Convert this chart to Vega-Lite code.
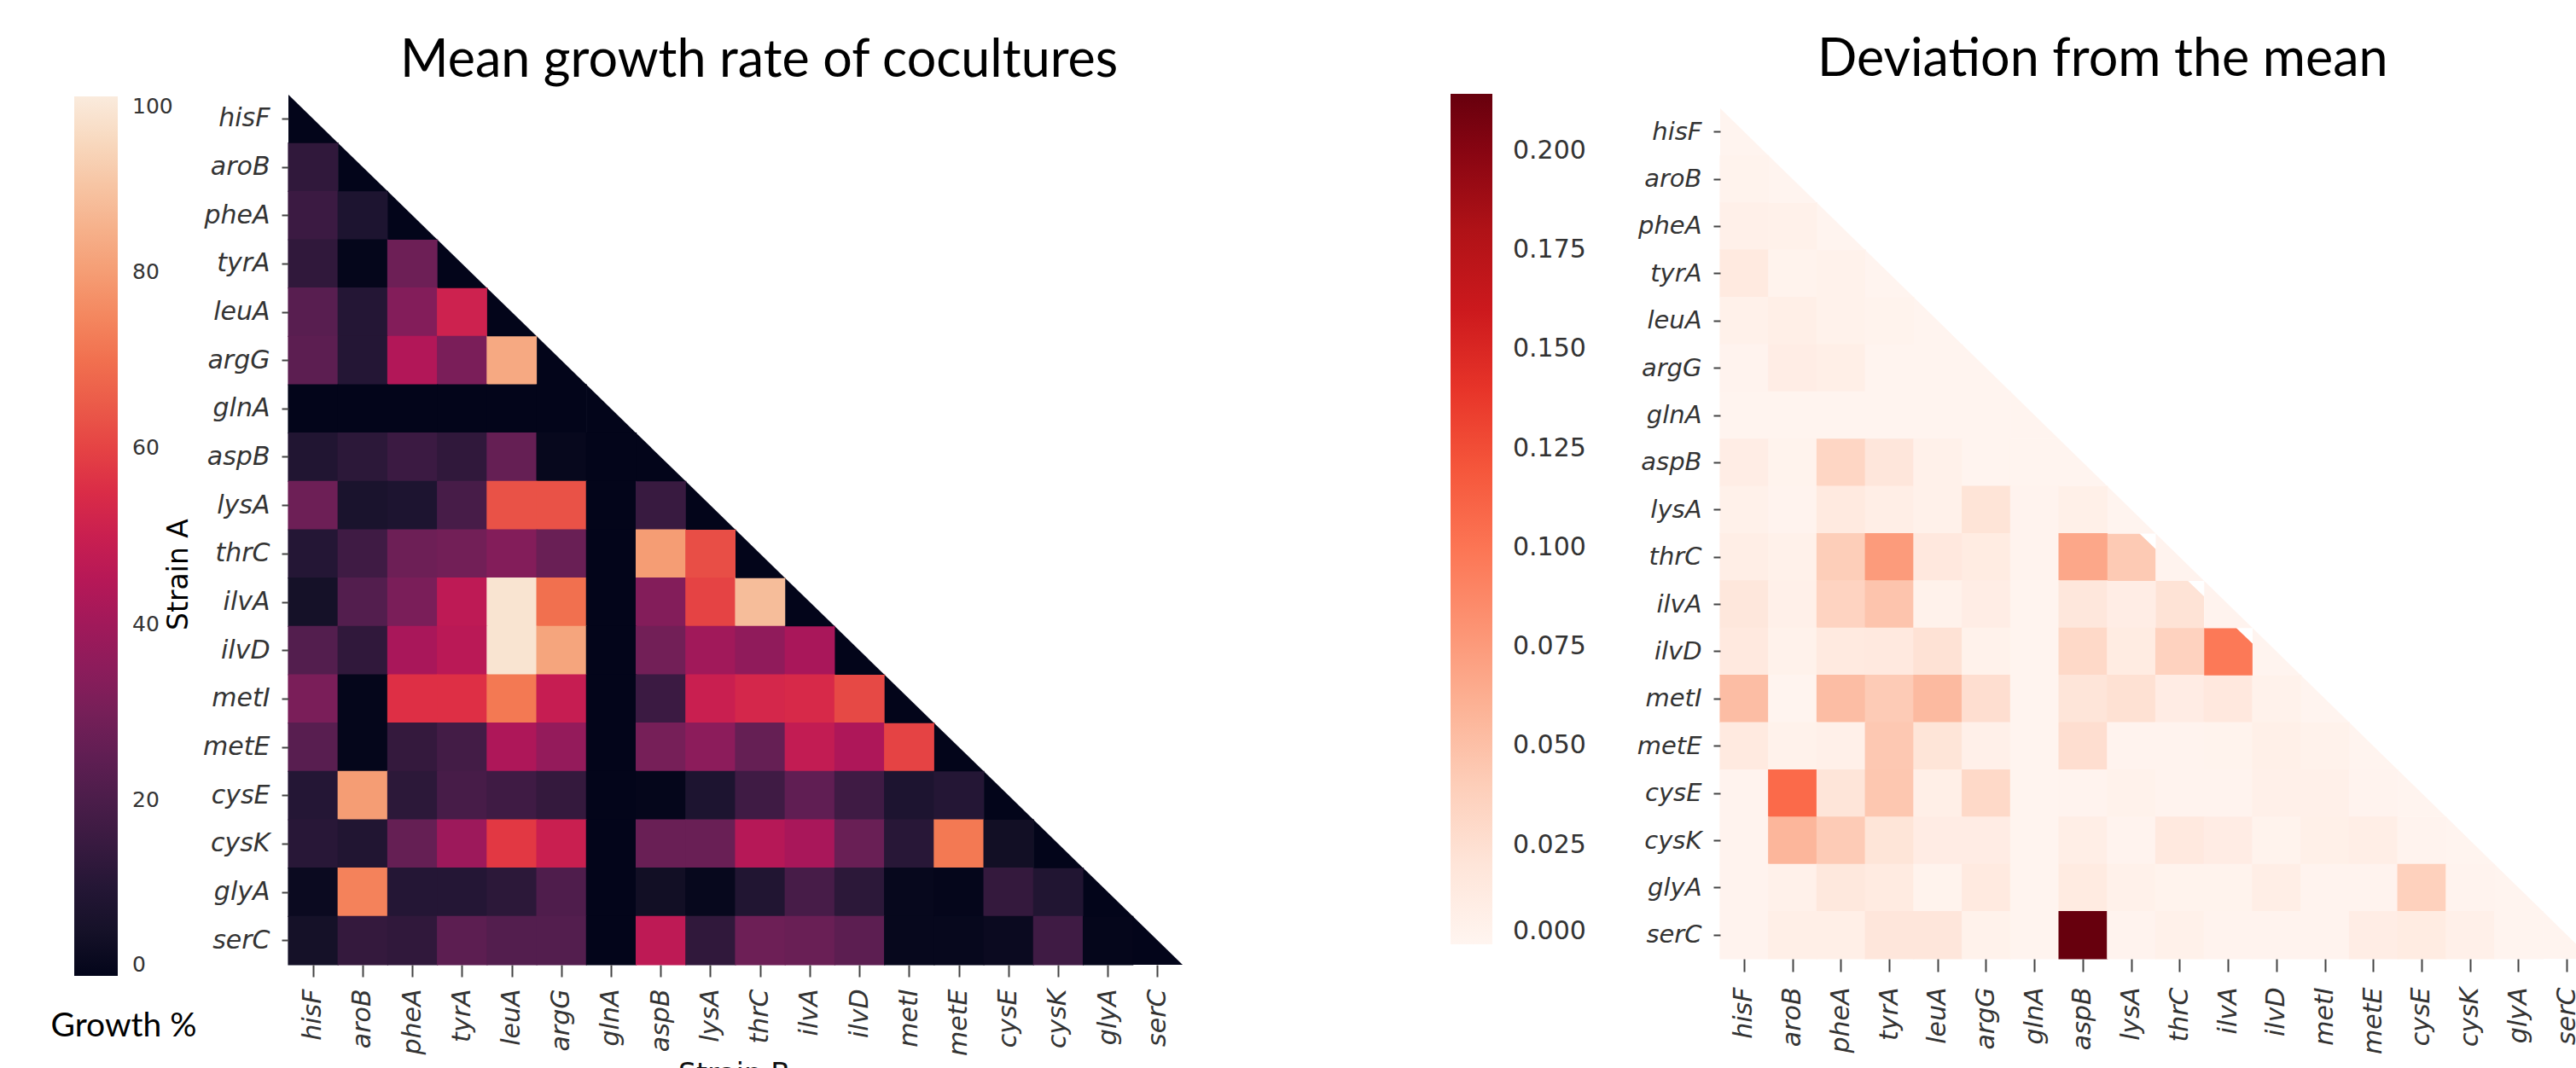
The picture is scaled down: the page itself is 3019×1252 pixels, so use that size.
{"$schema":"https://vega.github.io/schema/vega-lite/v6.json","background":"white","padding":{"left":59,"top":40,"right":0,"bottom":0},"spacing":314,"config":{"view":{"stroke":null},"axis":{"grid":false,"domain":false}},
"resolve":{"scale":{"color":"independent","x":"independent","y":"independent"},"legend":{"color":"independent"}},
"datasets":{"mean":[
{"a":"hisF","b":"hisF","v":0},
{"a":"aroB","b":"hisF","v":13},{"a":"aroB","b":"aroB","v":0},
{"a":"pheA","b":"hisF","v":16},{"a":"pheA","b":"aroB","v":8},{"a":"pheA","b":"pheA","v":0},
{"a":"tyrA","b":"hisF","v":13},{"a":"tyrA","b":"aroB","v":0.5},{"a":"tyrA","b":"pheA","v":28},{"a":"tyrA","b":"tyrA","v":0},
{"a":"leuA","b":"hisF","v":23},{"a":"leuA","b":"aroB","v":10},{"a":"leuA","b":"pheA","v":33},{"a":"leuA","b":"tyrA","v":51},{"a":"leuA","b":"leuA","v":0},
{"a":"argG","b":"hisF","v":24},{"a":"argG","b":"aroB","v":10},{"a":"argG","b":"pheA","v":44},{"a":"argG","b":"tyrA","v":31},{"a":"argG","b":"leuA","v":83},{"a":"argG","b":"argG","v":0},
{"a":"glnA","b":"hisF","v":0},{"a":"glnA","b":"aroB","v":0},{"a":"glnA","b":"pheA","v":0},{"a":"glnA","b":"tyrA","v":0},{"a":"glnA","b":"leuA","v":0},{"a":"glnA","b":"argG","v":0},{"a":"glnA","b":"glnA","v":0},
{"a":"aspB","b":"hisF","v":9},{"a":"aspB","b":"aroB","v":12},{"a":"aspB","b":"pheA","v":16},{"a":"aspB","b":"tyrA","v":13},{"a":"aspB","b":"leuA","v":26},{"a":"aspB","b":"argG","v":1},{"a":"aspB","b":"glnA","v":0},{"a":"aspB","b":"aspB","v":0},
{"a":"lysA","b":"hisF","v":28},{"a":"lysA","b":"aroB","v":7},{"a":"lysA","b":"pheA","v":8},{"a":"lysA","b":"tyrA","v":19},{"a":"lysA","b":"leuA","v":63},{"a":"lysA","b":"argG","v":63},{"a":"lysA","b":"glnA","v":0},{"a":"lysA","b":"aspB","v":15},{"a":"lysA","b":"lysA","v":0},
{"a":"thrC","b":"hisF","v":10},{"a":"thrC","b":"aroB","v":17},{"a":"thrC","b":"pheA","v":28},{"a":"thrC","b":"tyrA","v":29},{"a":"thrC","b":"leuA","v":33},{"a":"thrC","b":"argG","v":27},{"a":"thrC","b":"glnA","v":0},{"a":"thrC","b":"aspB","v":80},{"a":"thrC","b":"lysA","v":62},{"a":"thrC","b":"thrC","v":0},
{"a":"ilvA","b":"hisF","v":5},{"a":"ilvA","b":"aroB","v":22},{"a":"ilvA","b":"pheA","v":31},{"a":"ilvA","b":"tyrA","v":47},{"a":"ilvA","b":"leuA","v":98},{"a":"ilvA","b":"argG","v":70},{"a":"ilvA","b":"glnA","v":0},{"a":"ilvA","b":"aspB","v":33},{"a":"ilvA","b":"lysA","v":60},{"a":"ilvA","b":"thrC","v":88},{"a":"ilvA","b":"ilvA","v":0},
{"a":"ilvD","b":"hisF","v":22},{"a":"ilvD","b":"aroB","v":13},{"a":"ilvD","b":"pheA","v":42},{"a":"ilvD","b":"tyrA","v":46},{"a":"ilvD","b":"leuA","v":98},{"a":"ilvD","b":"argG","v":82},{"a":"ilvD","b":"glnA","v":0},{"a":"ilvD","b":"aspB","v":29},{"a":"ilvD","b":"lysA","v":40},{"a":"ilvD","b":"thrC","v":36},{"a":"ilvD","b":"ilvA","v":42},{"a":"ilvD","b":"ilvD","v":0},
{"a":"metI","b":"hisF","v":31},{"a":"metI","b":"aroB","v":0.5},{"a":"metI","b":"pheA","v":56},{"a":"metI","b":"tyrA","v":56},{"a":"metI","b":"leuA","v":72},{"a":"metI","b":"argG","v":49},{"a":"metI","b":"glnA","v":0},{"a":"metI","b":"aspB","v":16},{"a":"metI","b":"lysA","v":50},{"a":"metI","b":"thrC","v":53},{"a":"metI","b":"ilvA","v":54},{"a":"metI","b":"ilvD","v":61},{"a":"metI","b":"metI","v":0},
{"a":"metE","b":"hisF","v":23},{"a":"metE","b":"aroB","v":0.5},{"a":"metE","b":"pheA","v":14},{"a":"metE","b":"tyrA","v":18},{"a":"metE","b":"leuA","v":43},{"a":"metE","b":"argG","v":37},{"a":"metE","b":"glnA","v":0},{"a":"metE","b":"aspB","v":30},{"a":"metE","b":"lysA","v":35},{"a":"metE","b":"thrC","v":26},{"a":"metE","b":"ilvA","v":48},{"a":"metE","b":"ilvD","v":43},{"a":"metE","b":"metI","v":60},{"a":"metE","b":"metE","v":0},
{"a":"cysE","b":"hisF","v":10},{"a":"cysE","b":"aroB","v":80},{"a":"cysE","b":"pheA","v":12},{"a":"cysE","b":"tyrA","v":19},{"a":"cysE","b":"leuA","v":17},{"a":"cysE","b":"argG","v":14},{"a":"cysE","b":"glnA","v":0},{"a":"cysE","b":"aspB","v":0.5},{"a":"cysE","b":"lysA","v":8},{"a":"cysE","b":"thrC","v":17},{"a":"cysE","b":"ilvA","v":25},{"a":"cysE","b":"ilvD","v":17},{"a":"cysE","b":"metI","v":8},{"a":"cysE","b":"metE","v":10},{"a":"cysE","b":"cysE","v":0},
{"a":"cysK","b":"hisF","v":11},{"a":"cysK","b":"aroB","v":9},{"a":"cysK","b":"pheA","v":26},{"a":"cysK","b":"tyrA","v":39},{"a":"cysK","b":"leuA","v":58},{"a":"cysK","b":"argG","v":50},{"a":"cysK","b":"glnA","v":0},{"a":"cysK","b":"aspB","v":27},{"a":"cysK","b":"lysA","v":27},{"a":"cysK","b":"thrC","v":45},{"a":"cysK","b":"ilvA","v":42},{"a":"cysK","b":"ilvD","v":27},{"a":"cysK","b":"metI","v":11},{"a":"cysK","b":"metE","v":72},{"a":"cysK","b":"cysE","v":4},{"a":"cysK","b":"cysK","v":0},
{"a":"glyA","b":"hisF","v":2},{"a":"glyA","b":"aroB","v":74},{"a":"glyA","b":"pheA","v":10},{"a":"glyA","b":"tyrA","v":10},{"a":"glyA","b":"leuA","v":12},{"a":"glyA","b":"argG","v":21},{"a":"glyA","b":"glnA","v":0},{"a":"glyA","b":"aspB","v":4},{"a":"glyA","b":"lysA","v":1},{"a":"glyA","b":"thrC","v":9},{"a":"glyA","b":"ilvA","v":19},{"a":"glyA","b":"ilvD","v":12},{"a":"glyA","b":"metI","v":1},{"a":"glyA","b":"metE","v":0.5},{"a":"glyA","b":"cysE","v":14},{"a":"glyA","b":"cysK","v":9},{"a":"glyA","b":"glyA","v":0},
{"a":"serC","b":"hisF","v":5},{"a":"serC","b":"aroB","v":14},{"a":"serC","b":"pheA","v":13},{"a":"serC","b":"tyrA","v":24},{"a":"serC","b":"leuA","v":22},{"a":"serC","b":"argG","v":22},{"a":"serC","b":"glnA","v":0},{"a":"serC","b":"aspB","v":47},{"a":"serC","b":"lysA","v":13},{"a":"serC","b":"thrC","v":28},{"a":"serC","b":"ilvA","v":27},{"a":"serC","b":"ilvD","v":24},{"a":"serC","b":"metI","v":1},{"a":"serC","b":"metE","v":1},{"a":"serC","b":"cysE","v":2},{"a":"serC","b":"cysK","v":17},{"a":"serC","b":"glyA","v":0.5},{"a":"serC","b":"serC","v":0}
],"dev":[
{"a":"hisF","b":"hisF","v":0.001},
{"a":"aroB","b":"hisF","v":0.003},{"a":"aroB","b":"aroB","v":0.001},
{"a":"pheA","b":"hisF","v":0.006},{"a":"pheA","b":"aroB","v":0.005},{"a":"pheA","b":"pheA","v":0.001},
{"a":"tyrA","b":"hisF","v":0.014},{"a":"tyrA","b":"aroB","v":0.003},{"a":"tyrA","b":"pheA","v":0.004},{"a":"tyrA","b":"tyrA","v":0.001},
{"a":"leuA","b":"hisF","v":0.005},{"a":"leuA","b":"aroB","v":0.008},{"a":"leuA","b":"pheA","v":0.004},{"a":"leuA","b":"tyrA","v":0.003},{"a":"leuA","b":"leuA","v":0.001},
{"a":"argG","b":"hisF","v":0.002},{"a":"argG","b":"aroB","v":0.01},{"a":"argG","b":"pheA","v":0.008},{"a":"argG","b":"tyrA","v":0.001},{"a":"argG","b":"leuA","v":0.001},{"a":"argG","b":"argG","v":0.001},
{"a":"glnA","b":"hisF","v":0.001},{"a":"glnA","b":"aroB","v":0.001},{"a":"glnA","b":"pheA","v":0.001},{"a":"glnA","b":"tyrA","v":0.001},{"a":"glnA","b":"leuA","v":0.001},{"a":"glnA","b":"argG","v":0.001},{"a":"glnA","b":"glnA","v":0.001},
{"a":"aspB","b":"hisF","v":0.01},{"a":"aspB","b":"aroB","v":0.003},{"a":"aspB","b":"pheA","v":0.034},{"a":"aspB","b":"tyrA","v":0.019},{"a":"aspB","b":"leuA","v":0.005},{"a":"aspB","b":"argG","v":0.001},{"a":"aspB","b":"glnA","v":0.001},{"a":"aspB","b":"aspB","v":0.001},
{"a":"lysA","b":"hisF","v":0.005},{"a":"lysA","b":"aroB","v":0.002},{"a":"lysA","b":"pheA","v":0.014},{"a":"lysA","b":"tyrA","v":0.009},{"a":"lysA","b":"leuA","v":0.005},{"a":"lysA","b":"argG","v":0.022},{"a":"lysA","b":"glnA","v":0.002},{"a":"lysA","b":"aspB","v":0.007},{"a":"lysA","b":"lysA","v":0.001},
{"a":"thrC","b":"hisF","v":0.009},{"a":"thrC","b":"aroB","v":0.005},{"a":"thrC","b":"pheA","v":0.04},{"a":"thrC","b":"tyrA","v":0.075},{"a":"thrC","b":"leuA","v":0.016},{"a":"thrC","b":"argG","v":0.012},{"a":"thrC","b":"glnA","v":0.002},{"a":"thrC","b":"aspB","v":0.067},{"a":"thrC","b":"lysA","v":0.043},{"a":"thrC","b":"thrC","v":0.002},
{"a":"ilvA","b":"hisF","v":0.018},{"a":"ilvA","b":"aroB","v":0.006},{"a":"ilvA","b":"pheA","v":0.036},{"a":"ilvA","b":"tyrA","v":0.047},{"a":"ilvA","b":"leuA","v":0.004},{"a":"ilvA","b":"argG","v":0.01},{"a":"ilvA","b":"glnA","v":0.001},{"a":"ilvA","b":"aspB","v":0.018},{"a":"ilvA","b":"lysA","v":0.01},{"a":"ilvA","b":"thrC","v":0.023},{"a":"ilvA","b":"ilvA","v":0.002},
{"a":"ilvD","b":"hisF","v":0.015},{"a":"ilvD","b":"aroB","v":0.004},{"a":"ilvD","b":"pheA","v":0.014},{"a":"ilvD","b":"tyrA","v":0.015},{"a":"ilvD","b":"leuA","v":0.024},{"a":"ilvD","b":"argG","v":0.004},{"a":"ilvD","b":"glnA","v":0.001},{"a":"ilvD","b":"aspB","v":0.032},{"a":"ilvD","b":"lysA","v":0.012},{"a":"ilvD","b":"thrC","v":0.037},{"a":"ilvD","b":"ilvA","v":0.098},{"a":"ilvD","b":"ilvD","v":0.001},
{"a":"metI","b":"hisF","v":0.052},{"a":"metI","b":"aroB","v":0.001},{"a":"metI","b":"pheA","v":0.052},{"a":"metI","b":"tyrA","v":0.042},{"a":"metI","b":"leuA","v":0.054},{"a":"metI","b":"argG","v":0.028},{"a":"metI","b":"glnA","v":0.001},{"a":"metI","b":"aspB","v":0.02},{"a":"metI","b":"lysA","v":0.026},{"a":"metI","b":"thrC","v":0.011},{"a":"metI","b":"ilvA","v":0.016},{"a":"metI","b":"ilvD","v":0.004},{"a":"metI","b":"metI","v":0.001},
{"a":"metE","b":"hisF","v":0.014},{"a":"metE","b":"aroB","v":0.004},{"a":"metE","b":"pheA","v":0.006},{"a":"metE","b":"tyrA","v":0.044},{"a":"metE","b":"leuA","v":0.021},{"a":"metE","b":"argG","v":0.006},{"a":"metE","b":"glnA","v":0.001},{"a":"metE","b":"aspB","v":0.028},{"a":"metE","b":"lysA","v":0.002},{"a":"metE","b":"thrC","v":0.002},{"a":"metE","b":"ilvA","v":0.003},{"a":"metE","b":"ilvD","v":0.007},{"a":"metE","b":"metI","v":0.004},{"a":"metE","b":"metE","v":0.001},
{"a":"cysE","b":"hisF","v":0.002},{"a":"cysE","b":"aroB","v":0.107},{"a":"cysE","b":"pheA","v":0.02},{"a":"cysE","b":"tyrA","v":0.045},{"a":"cysE","b":"leuA","v":0.008},{"a":"cysE","b":"argG","v":0.032},{"a":"cysE","b":"glnA","v":0.001},{"a":"cysE","b":"aspB","v":0.002},{"a":"cysE","b":"lysA","v":0.004},{"a":"cysE","b":"thrC","v":0.002},{"a":"cysE","b":"ilvA","v":0.002},{"a":"cysE","b":"ilvD","v":0.006},{"a":"cysE","b":"metI","v":0.006},{"a":"cysE","b":"metE","v":0.002},{"a":"cysE","b":"cysE","v":0.001},
{"a":"cysK","b":"hisF","v":0.002},{"a":"cysK","b":"aroB","v":0.057},{"a":"cysK","b":"pheA","v":0.042},{"a":"cysK","b":"tyrA","v":0.021},{"a":"cysK","b":"leuA","v":0.011},{"a":"cysK","b":"argG","v":0.011},{"a":"cysK","b":"glnA","v":0.001},{"a":"cysK","b":"aspB","v":0.009},{"a":"cysK","b":"lysA","v":0.002},{"a":"cysK","b":"thrC","v":0.015},{"a":"cysK","b":"ilvA","v":0.011},{"a":"cysK","b":"ilvD","v":0.003},{"a":"cysK","b":"metI","v":0.007},{"a":"cysK","b":"metE","v":0.009},{"a":"cysK","b":"cysE","v":0.002},{"a":"cysK","b":"cysK","v":0.001},
{"a":"glyA","b":"hisF","v":0.002},{"a":"glyA","b":"aroB","v":0.005},{"a":"glyA","b":"pheA","v":0.017},{"a":"glyA","b":"tyrA","v":0.013},{"a":"glyA","b":"leuA","v":0.003},{"a":"glyA","b":"argG","v":0.014},{"a":"glyA","b":"glnA","v":0.001},{"a":"glyA","b":"aspB","v":0.013},{"a":"glyA","b":"lysA","v":0.005},{"a":"glyA","b":"thrC","v":0.003},{"a":"glyA","b":"ilvA","v":0.003},{"a":"glyA","b":"ilvD","v":0.009},{"a":"glyA","b":"metI","v":0.002},{"a":"glyA","b":"metE","v":0.002},{"a":"glyA","b":"cysE","v":0.038},{"a":"glyA","b":"cysK","v":0.002},{"a":"glyA","b":"glyA","v":0.001},
{"a":"serC","b":"hisF","v":0.002},{"a":"serC","b":"aroB","v":0.008},{"a":"serC","b":"pheA","v":0.008},{"a":"serC","b":"tyrA","v":0.019},{"a":"serC","b":"leuA","v":0.019},{"a":"serC","b":"argG","v":0.004},{"a":"serC","b":"glnA","v":0.001},{"a":"serC","b":"aspB","v":0.2144},{"a":"serC","b":"lysA","v":0.002},{"a":"serC","b":"thrC","v":0.005},{"a":"serC","b":"ilvA","v":0.002},{"a":"serC","b":"ilvD","v":0.002},{"a":"serC","b":"metI","v":0.002},{"a":"serC","b":"metE","v":0.01},{"a":"serC","b":"cysE","v":0.012},{"a":"serC","b":"cysK","v":0.006},{"a":"serC","b":"glyA","v":0.001},{"a":"serC","b":"serC","v":0.001}
]},
"hconcat":[
{"width":1048,"height":1020,"data":{"name":"mean"},
"title":{"text":"Mean growth rate of cocultures","anchor":"start","frame":"group","dx":131,"offset":-40,"baseline":"alphabetic","font":"Lato","fontSize":61,"fontWeight":"normal","color":"black"},
"encoding":{
"x":{"field":"b","type":"nominal","scale":{"domain":["hisF","aroB","pheA","tyrA","leuA","argG","glnA","aspB","lysA","thrC","ilvA","ilvD","metI","metE","cysE","cysK","glyA","serC"],"paddingInner":0,"paddingOuter":0},"axis":{"title":"Strain B","titleFont":"DejaVu Sans","titleFontSize":33,"titleFontWeight":"normal","titleColor":"#111","titleX":522,"titleY":112,"titleBaseline":"top","titleAlign":"center","labelAngle":-90,"labelFont":"DejaVu Sans","labelFontStyle":"italic","labelFontSize":30,"labelColor":"#333","labelPadding":14,"labelBaseline":"middle","tickSize":14,"tickWidth":2,"tickColor":"#444"}},
"y":{"field":"a","type":"nominal","scale":{"domain":["hisF","aroB","pheA","tyrA","leuA","argG","glnA","aspB","lysA","thrC","ilvA","ilvD","metI","metE","cysE","cysK","glyA","serC"],"paddingInner":0,"paddingOuter":0},"axis":{"title":"Strain A","titleFont":"DejaVu Sans","titleFontSize":33,"titleFontWeight":"normal","titleColor":"black","titleX":-129,"titleY":562,"titleAngle":-90,"titleAlign":"center","titleBaseline":"middle","labelFont":"DejaVu Sans","labelFontStyle":"italic","labelFontSize":30,"labelColor":"#333","labelPadding":14,"tickSize":8,"tickWidth":2,"tickColor":"#444"}},
"color":{"field":"v","type":"quantitative","scale":{"domain":[0,14.29,28.57,42.86,57.14,71.43,85.71,100],"range":["#03051a","#35193e","#701f57","#ad1759","#e13342","#f37651","#f6b48f","#faebdd"]},"legend":{"type":"gradient","title":"Growth %","orient":"none","legendX":-279,"legendY":2,"direction":"vertical","gradientLength":1031,"gradientThickness":51,"values":[0,20,40,60,80,100],"labelFont":"DejaVu Sans","labelFontSize":25,"labelColor":"#333","labelOffset":17,"labelBaseline":"middle","labelOverlap":false,"titleOrient":"bottom","titleFont":"Lato","titleFontSize":39,"titleFontWeight":"normal","titleColor":"black","titlePadding":40,"titleAnchor":"middle","titleAlign":"center"}}},
"layer":[
{"transform":[{"filter":"datum.a != datum.b"}],"mark":{"type":"rect","strokeWidth":0,"width":{"band":1.02},"height":{"band":1.02}}},
{"transform":[{"filter":"datum.a == datum.b"}],"mark":{"type":"point","filled":true,"opacity":1,"strokeWidth":0,"size":3387,"shape":"M-1 -0.974L1 0.974L-1 0.974Z"}}
]},
{"width":1021,"height":1013,"data":{"name":"dev"},
"title":{"text":"Deviation from the mean","anchor":"start","frame":"group","dx":114,"offset":-40,"baseline":"alphabetic","font":"Lato","fontSize":61,"fontWeight":"normal","color":"black"},
"encoding":{
"x":{"field":"b","type":"nominal","scale":{"domain":["hisF","aroB","pheA","tyrA","leuA","argG","glnA","aspB","lysA","thrC","ilvA","ilvD","metI","metE","cysE","cysK","glyA","serC"],"paddingInner":0,"paddingOuter":0},"axis":{"title":null,"labelAngle":-90,"labelFont":"DejaVu Sans","labelFontStyle":"italic","labelFontSize":30,"labelColor":"#333","labelPadding":18,"labelBaseline":"middle","tickSize":15,"tickWidth":2,"tickColor":"#444"}},
"y":{"field":"a","type":"nominal","scale":{"domain":["hisF","aroB","pheA","tyrA","leuA","argG","glnA","aspB","lysA","thrC","ilvA","ilvD","metI","metE","cysE","cysK","glyA","serC"],"range":[16,1013],"paddingInner":0,"paddingOuter":0},"axis":{"title":null,"labelFont":"DejaVu Sans","labelFontStyle":"italic","labelFontSize":29,"labelColor":"#333","labelPadding":14,"tickSize":8,"tickWidth":2,"tickColor":"#444"}},
"color":{"field":"v","type":"quantitative","scale":{"domain":[0,0.0268,0.0536,0.0804,0.1072,0.134,0.1608,0.1876,0.2144],"range":["#fff5f0","#fee0d2","#fcbba1","#fc9272","#fb6a4a","#ef3b2c","#cb181d","#a50f15","#67000d"]},"legend":{"type":"gradient","title":null,"orient":"none","legendX":-316,"legendY":-1,"direction":"vertical","gradientLength":997,"gradientThickness":49,"values":[0,0.025,0.05,0.075,0.1,0.125,0.15,0.175,0.2],"format":".3f","labelFont":"DejaVu Sans","labelFontSize":30,"labelColor":"#333","labelOffset":24,"labelBaseline":"middle","labelOverlap":false}}},
"layer":[
{"transform":[{"filter":"datum.a != datum.b && !((datum.a=='thrC'&&datum.b=='lysA')||(datum.a=='ilvA'&&datum.b=='thrC')||(datum.a=='ilvD'&&datum.b=='ilvA'))"}],"mark":{"type":"rect","strokeWidth":0,"width":{"band":1.02},"height":{"band":1.02}}},
{"transform":[{"filter":"(datum.a=='thrC'&&datum.b=='lysA')||(datum.a=='ilvA'&&datum.b=='thrC')||(datum.a=='ilvD'&&datum.b=='ilvA')"}],"mark":{"type":"point","filled":true,"opacity":1,"strokeWidth":0,"size":3215,"shape":"M-1 -0.977L0.33 -0.977L1 -0.33L1 0.977L-1 0.977Z"}},
{"transform":[{"filter":"datum.a == datum.b"}],"mark":{"type":"point","filled":true,"opacity":1,"strokeWidth":0,"size":3215,"shape":"M-1 -0.977L1 0.977L-1 0.977Z"}}
]}
]}
